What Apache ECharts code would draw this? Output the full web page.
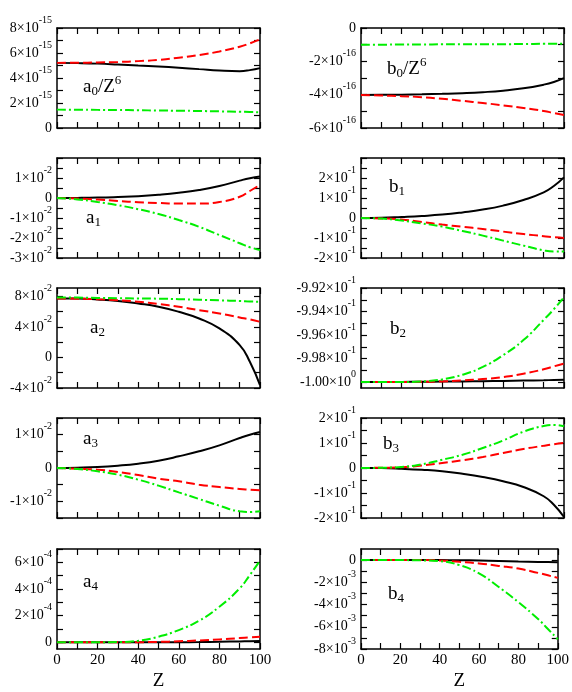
<!DOCTYPE html>
<html><head><meta charset="utf-8">
<script src="https://cdn.jsdelivr.net/npm/echarts@6/dist/echarts.min.js"></script>
<style>html,body{margin:0;padding:0;background:#fff}#c{width:572px;height:692px}</style>
</head><body><div id="c"></div>
<script>
// ---------- data ----------
const zValues = [0, 10, 20, 30, 40, 50, 60, 70, 80, 90, 95, 100];
const xTickValues = [0, 10, 20, 30, 40, 50, 60, 70, 80, 90, 100];
const xLabelValues = [0, 20, 40, 60, 80, 100];

// a0/Z^6 (units of 1e-15)
const a0Black = [5.21, 5.19, 5.15, 5.08, 5.00, 4.92, 4.82, 4.71, 4.60, 4.55, 4.63, 4.79];
const a0Red   = [5.21, 5.22, 5.24, 5.28, 5.35, 5.45, 5.62, 5.84, 6.12, 6.50, 6.77, 7.09];
const a0Green = [1.47, 1.46, 1.45, 1.44, 1.42, 1.40, 1.38, 1.36, 1.33, 1.30, 1.28, 1.26];
const a0Ticks = [0, 2, 4, 6, 8], a0Minor = [1, 3, 5, 7];
const a0LabelValues = [0, 2, 4, 6, 8];
const a0Labels = ['0', '2×10^-15', '4×10^-15', '6×10^-15', '8×10^-15'];

// b0/Z^6 (units of 1e-16)
const b0Black = [-4.02, -4.01, -4.00, -3.98, -3.95, -3.91, -3.85, -3.76, -3.62, -3.40, -3.24, -3.01];
const b0Red   = [-4.02, -4.05, -4.09, -4.15, -4.25, -4.37, -4.50, -4.64, -4.80, -4.98, -5.10, -5.22];
const b0Green = [-1.00, -1.00, -0.99, -0.99, -0.98, -0.98, -0.97, -0.97, -0.96, -0.95, -0.95, -0.94];
const b0Ticks = [-6, -4, -2, 0], b0Minor = [-5, -3, -1];
const b0LabelValues = [-6, -4, -2, 0];
const b0Labels = ['-6×10^-16', '-4×10^-16', '-2×10^-16', '0'];

// a1 (units of 1e-2)
const a1Black = [0, 0.005, 0.02, 0.05, 0.09, 0.16, 0.26, 0.40, 0.60, 0.87, 0.99, 1.07];
const a1Red   = [0, -0.03, -0.08, -0.15, -0.21, -0.25, -0.28, -0.28, -0.20, 0.06, 0.35, 0.66];
const a1Green = [0, -0.07, -0.20, -0.36, -0.56, -0.80, -1.10, -1.44, -1.85, -2.26, -2.46, -2.60];
const a1Ticks = [-3, -2, -1, 0, 1, 2], a1Minor = [-2.5, -1.5, -0.5, 0.5, 1.5];
const a1LabelValues = [-3, -2, -1, 0, 1];
const a1Labels = ['-3×10^-2', '-2×10^-2', '-1×10^-2', '0', '1×10^-2'];

// b1 (units of 1e-1)
const b1Black = [0, 0.01, 0.05, 0.10, 0.17, 0.28, 0.42, 0.62, 0.90, 1.28, 1.60, 2.03];
const b1Red   = [0, -0.02, -0.08, -0.20, -0.33, -0.44, -0.55, -0.68, -0.80, -0.91, -0.96, -1.00];
const b1Green = [0, -0.03, -0.13, -0.27, -0.43, -0.65, -0.88, -1.13, -1.38, -1.62, -1.68, -1.67];
const b1Ticks = [-2, -1, 0, 1, 2, 3], b1Minor = [-1.5, -0.5, 0.5, 1.5, 2.5];
const b1LabelValues = [-2, -1, 0, 1, 2];
const b1Labels = ['-2×10^-1', '-1×10^-1', '0', '1×10^-1', '2×10^-1'];

// a2 (units of 1e-2)
const a2Black = [7.73, 7.72, 7.60, 7.40, 7.07, 6.64, 5.98, 5.11, 3.80, 1.62, -0.57, -3.62];
const a2Red   = [7.73, 7.70, 7.62, 7.50, 7.30, 7.00, 6.64, 6.20, 5.76, 5.24, 4.98, 4.67];
const a2Green = [7.86, 7.84, 7.80, 7.76, 7.73, 7.70, 7.64, 7.56, 7.48, 7.40, 7.34, 7.30];
const a2Ticks = [-4, 0, 4, 8], a2Minor = [-2, 2, 6];
const a2LabelValues = [-4, 0, 4, 8];
const a2Labels = ['-4×10^-2', '0', '4×10^-2', '8×10^-2'];

// b2 (absolute values)
const b2Black = [-1.00000, -0.99999, -0.99998, -0.99997, -0.99995, -0.99994, -0.99992, -0.99990, -0.99987, -0.99984, -0.99982, -0.99980];
const b2Red   = [-1.00000, -1.00000, -0.99999, -0.99997, -0.99994, -0.99986, -0.99974, -0.99957, -0.99929, -0.99891, -0.99866, -0.99843];
const b2Green = [-1.00000, -1.00000, -0.99999, -0.99994, -0.99977, -0.99937, -0.99871, -0.99771, -0.99643, -0.99471, -0.99380, -0.99277];
const b2Ticks = [-1.000, -0.998, -0.996, -0.994, -0.992], b2Minor = [-0.999, -0.997, -0.995, -0.993];
const b2LabelValues = [-1.000, -0.998, -0.996, -0.994, -0.992];
const b2Labels = ['-1.00×10^0', '-9.98×10^-1', '-9.96×10^-1', '-9.94×10^-1', '-9.92×10^-1'];

// a3 (units of 1e-2)
const a3Black = [0, 0.01, 0.03, 0.07, 0.13, 0.22, 0.35, 0.50, 0.68, 0.90, 1.00, 1.08];
const a3Red   = [0, -0.02, -0.05, -0.12, -0.21, -0.32, -0.40, -0.50, -0.57, -0.63, -0.65, -0.67];
const a3Green = [0, -0.03, -0.10, -0.20, -0.35, -0.53, -0.73, -0.93, -1.13, -1.30, -1.32, -1.30];
const a3Ticks = [-1, 0, 1], a3Minor = [-1.5, -0.5, 0.5, 1.5];
const a3LabelValues = [-1, 0, 1];
const a3Labels = ['-1×10^-2', '0', '1×10^-2'];

// b3 (units of 1e-1)
const b3Black = [0, -0.005, -0.03, -0.07, -0.13, -0.23, -0.36, -0.53, -0.76, -1.13, -1.47, -1.96];
const b3Red   = [0, 0.01, 0.03, 0.10, 0.20, 0.31, 0.44, 0.60, 0.76, 0.89, 0.95, 1.00];
const b3Green = [0, 0.01, 0.04, 0.15, 0.33, 0.53, 0.80, 1.10, 1.45, 1.68, 1.72, 1.67];
const b3Ticks = [-2, -1, 0, 1, 2], b3Minor = [-1.5, -0.5, 0.5, 1.5];
const b3LabelValues = [-2, -1, 0, 1, 2];
const b3Labels = ['-2×10^-1', '-1×10^-1', '0', '1×10^-1', '2×10^-1'];

// a4 (units of 1e-4)
const a4Black = [0, 0, 0, 0, 0, 0, 0.01, 0.02, 0.04, 0.07, 0.09, 0.10];
const a4Red   = [0, 0, 0, 0, 0.01, 0.03, 0.08, 0.14, 0.22, 0.32, 0.37, 0.42];
const a4Green = [0, 0, 0, 0.02, 0.12, 0.42, 0.92, 1.62, 2.67, 4.05, 5.05, 6.12];
const a4Ticks = [0, 2, 4, 6], a4Minor = [1, 3, 5, 7];
const a4LabelValues = [0, 2, 4, 6];
const a4Labels = ['0', '2×10^-4', '4×10^-4', '6×10^-4'];

// b4 (units of 1e-3)
const b4Black = [0, 0, 0, 0, 0, -0.01, -0.03, -0.07, -0.12, -0.16, -0.18, -0.20];
const b4Red   = [0, 0, 0, 0, -0.03, -0.15, -0.30, -0.52, -0.76, -1.15, -1.37, -1.60];
const b4Green = [0, 0, 0, -0.02, -0.10, -0.45, -1.20, -2.42, -3.79, -5.30, -6.20, -7.12];
const b4Ticks = [-8, -6, -4, -2, 0], b4Minor = [-7, -5, -3, -1];
const b4LabelValues = [-8, -6, -4, -2, 0];
const b4Labels = ['-8×10^-3', '-6×10^-3', '-4×10^-3', '-2×10^-3', '0'];

// panel titles
const panelTitles = {
  a0: '{m|a}{sub|0}{m|/Z}{sup|6}', b0: '{m|b}{sub|0}{m|/Z}{sup|6}',
  a1: '{m|a}{sub|1}', b1: '{m|b}{sub|1}',
  a2: '{m|a}{sub|2}', b2: '{m|b}{sub|2}',
  a3: '{m|a}{sub|3}', b3: '{m|b}{sub|3}',
  a4: '{m|a}{sub|4}', b4: '{m|b}{sub|4}'
};

// ---------- layout / styling ----------
const FONT = 'Liberation Serif';
const colLeft = [57, 361];
const rowTop = [28, 158, 288, 418, 549];
const W = 203, H = 100;

const panels = [
  {key:'a0', col:0, row:0, min:0, max:8, black:a0Black, red:a0Red, green:a0Green, ticks:a0Ticks, minor:a0Minor, lv:a0LabelValues, lt:a0Labels, tx:83, ty:87},
  {key:'b0', col:1, row:0, min:-6, max:0, black:b0Black, red:b0Red, green:b0Green, ticks:b0Ticks, minor:b0Minor, lv:b0LabelValues, lt:b0Labels, tx:387, ty:69},
  {key:'a1', col:0, row:1, min:-3, max:2, black:a1Black, red:a1Red, green:a1Green, ticks:a1Ticks, minor:a1Minor, lv:a1LabelValues, lt:a1Labels, tx:86, ty:218},
  {key:'b1', col:1, row:1, min:-2, max:3, black:b1Black, red:b1Red, green:b1Green, ticks:b1Ticks, minor:b1Minor, lv:b1LabelValues, lt:b1Labels, tx:389, ty:187},
  {key:'a2', col:0, row:2, min:-4, max:9.1, black:a2Black, red:a2Red, green:a2Green, ticks:a2Ticks, minor:a2Minor, lv:a2LabelValues, lt:a2Labels, tx:90, ty:328},
  {key:'b2', col:1, row:2, min:-1.0005, max:-0.992, black:b2Black, red:b2Red, green:b2Green, ticks:b2Ticks, minor:b2Minor, lv:b2LabelValues, lt:b2Labels, tx:390, ty:329},
  {key:'a3', col:0, row:3, min:-1.5, max:1.5, black:a3Black, red:a3Red, green:a3Green, ticks:a3Ticks, minor:a3Minor, lv:a3LabelValues, lt:a3Labels, tx:83, ty:439},
  {key:'b3', col:1, row:3, min:-2, max:2, black:b3Black, red:b3Red, green:b3Green, ticks:b3Ticks, minor:b3Minor, lv:b3LabelValues, lt:b3Labels, tx:383, ty:444},
  {key:'a4', col:0, row:4, min:-0.5, max:7, black:a4Black, red:a4Red, green:a4Green, ticks:a4Ticks, minor:a4Minor, lv:a4LabelValues, lt:a4Labels, tx:83, ty:582},
  {key:'b4', col:1, row:4, min:-8, max:1, black:b4Black, red:b4Red, green:b4Green, ticks:b4Ticks, minor:b4Minor, lv:b4LabelValues, lt:b4Labels, tx:388, ty:594}
];

const yRich = {
  m: {fontFamily: FONT, fontSize: 14, lineHeight: 14, color: '#000'},
  s: {fontFamily: FONT, fontSize: 10, lineHeight: 10, color: '#000', verticalAlign: 'top', padding: [-6, 0, 0, 0]},
  z: {fontFamily: FONT, fontSize: 14, lineHeight: 14, color: '#000'}
};
function richLabel(txt) {
  if (txt.indexOf('^') < 0) return '{z|' + txt + '}';
  const parts = txt.split('^');
  return '{m|' + parts[0] + '}{s|' + parts[1] + '}';
}

const grids = [], xAxes = [], yAxes = [], series = [], graphics = [];
const axisLineStyle = {color: '#000', width: 1.5};
const tickStyle = {color: '#000', width: 1.2};

panels.forEach((p, i) => {
  grids.push({left: colLeft[p.col], top: rowTop[p.row], width: W, height: H, containLabel: false});
  const bottomRow = p.row === 4;
  ['bottom', 'top'].forEach(pos => {
    xAxes.push({
      type: 'value', gridIndex: i, position: pos, min: 0, max: 100,
      axisLine: {show: true, onZero: false, lineStyle: axisLineStyle},
      axisTick: {show: true, inside: true, length: 6, customValues: xTickValues, lineStyle: tickStyle},
      axisLabel: {show: bottomRow && pos === 'bottom', customValues: xLabelValues, margin: 4,
                  showMinLabel: true, showMaxLabel: true, hideOverlap: false,
                  fontFamily: FONT, fontSize: 15, color: '#000'},
      splitLine: {show: false},
      name: (bottomRow && pos === 'bottom') ? 'Z' : '',
      nameLocation: 'middle', nameGap: 23,
      nameTextStyle: {fontFamily: FONT, fontSize: 19, color: '#000'}
    });
  });
  ['left', 'right'].forEach(pos => {
    yAxes.push({
      type: 'value', gridIndex: i, position: pos, min: p.min, max: p.max,
      axisLine: {show: true, onZero: false, lineStyle: axisLineStyle},
      axisTick: {show: true, inside: true, length: 6, customValues: p.ticks.concat(p.minor), lineStyle: tickStyle},
      axisLabel: {
        show: pos === 'left', customValues: p.lv, margin: 5, rich: yRich,
        showMinLabel: true, showMaxLabel: true, hideOverlap: false,
        formatter: v => {
          let k = 0, best = Infinity;
          p.lv.forEach((lv, j) => { const d = Math.abs(lv - v); if (d < best) { best = d; k = j; } });
          return richLabel(p.lt[k]);
        }
      },
      splitLine: {show: false}
    });
  });
  const mk = arr => zValues.map((z, k) => [z, arr[k]]);
  const common = {type: 'line', xAxisIndex: 2 * i, yAxisIndex: 2 * i, showSymbol: false, symbol: 'none',
                  smooth: 0.5, clip: true, silent: true, animation: false};
  series.push(Object.assign({}, common, {name: p.key + ' black', data: mk(p.black), lineStyle: {color: '#000', width: 2, type: 'solid'}, z: 3}));
  series.push(Object.assign({}, common, {name: p.key + ' red', data: mk(p.red), lineStyle: {color: '#ff0000', width: 2, type: [9, 4]}, z: 4}));
  series.push(Object.assign({}, common, {name: p.key + ' green', data: mk(p.green), lineStyle: {color: '#00ee00', width: 2, type: [9, 3, 2, 3]}, z: 5}));
  graphics.push({
    type: 'text', x: p.tx, y: p.ty, z: 10,
    style: {
      text: panelTitles[p.key], align: 'left', verticalAlign: 'middle', fill: '#000',
      rich: {
        m: {fontFamily: FONT, fontSize: 19, fill: '#000'},
        sub: {fontFamily: FONT, fontSize: 13, fill: '#000', padding: [9, 0, 0, 0]},
        sup: {fontFamily: FONT, fontSize: 13, fill: '#000', padding: [0, 0, 13, 0]}
      }
    }
  });
});

const chart = echarts.init(document.getElementById('c'), null, {renderer: 'canvas'});
chart.setOption({
  backgroundColor: '#fff',
  animation: false,
  grid: grids, xAxis: xAxes, yAxis: yAxes, series: series, graphic: graphics
});
</script>
</body></html>
